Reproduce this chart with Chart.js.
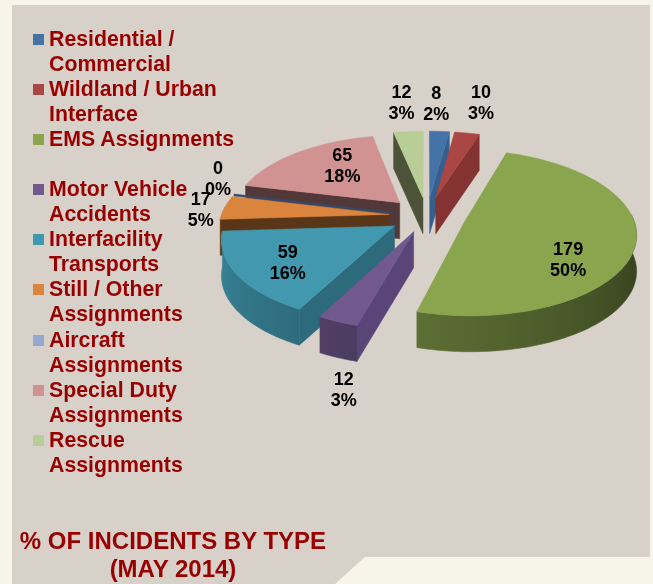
<!DOCTYPE html>
<html>
<head>
<meta charset="utf-8">
<script src="https://cdn.jsdelivr.net/npm/chart.js@4"></script>
<style>
  body { margin: 0; background: #f7f5ea; font-family: "Liberation Sans", Arial, sans-serif; }
  #wrap { position: relative; width: 653px; height: 584px; overflow: hidden; }
  #panel {
    position: absolute; left: 0; top: 0; width: 653px; height: 584px; background: #d8d1c9;
    clip-path: polygon(12px 5px, 650px 5px, 650px 557px, 365px 557px, 335px 584px, 12px 584px);
  }
  canvas { position: absolute; left: 0; top: 0; }
  #legend { position: absolute; left: 33px; top: 27px; width: 205px; }
  .item { position: relative; height: 50.1px; padding-left: 16px; font: bold 21.3px/25px "Liberation Sans", Arial, sans-serif; color: #980000; }
  .swatch { position: absolute; left: 0; top: 7px; width: 11px; height: 11px; }
  #title {
    position: absolute; left: 0; top: 527px; width: 346px; text-align: center;
    font: bold 24px/28px "Liberation Sans", Arial, sans-serif; color: #980000;
  }
</style>
</head>
<body>
<div id="wrap">
  <div id="panel"></div>
  <canvas id="chart" width="653" height="584"></canvas>
  <div id="legend"></div>
  <div id="title">% OF INCIDENTS BY TYPE<br>(MAY 2014)</div>
</div>
<script>
const categories = [
  "Residential / Commercial", "Wildland / Urban Interface", "EMS Assignments",
  "Motor Vehicle Accidents", "Interfacility Transports", "Still / Other Assignments",
  "Aircraft Assignments", "Special Duty Assignments", "Rescue Assignments"
];
const incidents = [8, 10, 179, 12, 59, 17, 0, 65, 12];
const percents = [2, 3, 50, 3, 16, 5, 0, 18, 3];

// styling, not data
const sliceColors = ["#4572a7", "#aa4643", "#89a54e", "#71588f", "#4198af", "#db843d", "#93a9cf", "#d19392", "#b9cd96"];
const wallColors = ["#365f8e", "#843232", "#4a5a2a", "#5a4578", "#2d6a7b", "#5a3618", "#34486a", "#523838", "#4c5339"];
const explode = [40, 40, 39, 35, 38, 38, 38, 40, 40];
const labelNudge = [[-3, -27], [14, -29], [-67, 14], [6, 69], [51, -11], [-24, 3], [-16, -15], [45, 14], [-7, -28]];
const paintOrder = [7, 8, 0, 1, 6, 5, 4, 3, 2];

const squash = 0.476, perspective = 0.135, depth = 36;

function shade(hex, f) {
  const n = parseInt(hex.slice(1), 16);
  return `rgb(${(n >> 16) * f | 0},${((n >> 8) & 255) * f | 0},${(n & 255) * f | 0})`;
}

function rimShade(angle) {
  // light falls from the left
  const deg = (angle + Math.PI / 2) * 180 / Math.PI;
  return Math.min(0.95, Math.max(0.42, 0.42 + (deg - 110) * 0.003));
}

// Chart.js has no 3D pie, so this plugin paints the arcs it has laid out as a tilted disc
const pie3d = {
  id: "pie3d",
  beforeDatasetsDraw(chart) {
    const ctx = chart.ctx;
    const arcs = chart.getDatasetMeta(0).data;
    const project = (arc, u, v, z = 0) => {
      const s = 1 / (1 - perspective * v / arc.outerRadius);
      return [arc.x + u * s, arc.y + v * squash * s + z];
    };
    const poly = (pts, color) => {
      ctx.beginPath();
      pts.forEach((p, i) => (i ? ctx.lineTo(p[0], p[1]) : ctx.moveTo(p[0], p[1])));
      ctx.closePath();
      ctx.fillStyle = color;
      ctx.strokeStyle = color;
      ctx.lineWidth = 0.5;
      ctx.fill();
      ctx.stroke();
    };

    paintOrder.forEach((i) => {
      const arc = arcs[i];
      const mid = (arc.startAngle + arc.endAngle) / 2;
      const ex = explode[i] * Math.cos(mid), ey = explode[i] * Math.sin(mid);
      const R = arc.outerRadius;
      const rim = (a, z) => project(arc, ex + R * Math.cos(a), ey + R * Math.sin(a), z);
      const apex = (z) => project(arc, ex, ey, z);

      if (arc.endAngle - arc.startAngle < 0.001) {
        // zero value slice, only its edge shows
        poly([apex(0), rim(arc.startAngle, 0), rim(arc.startAngle, 2), apex(2)], wallColors[i]);
        return;
      }

      const steps = Math.max(2, Math.ceil((arc.endAngle - arc.startAngle) / 0.02));
      const angles = [];
      for (let k = 0; k <= steps; k++) angles.push(arc.startAngle + (arc.endAngle - arc.startAngle) * k / steps);

      // outer curved wall, only the part turned to the viewer
      const front = angles.filter((a) => Math.sin(a) > -0.1);
      if (front.length > 1) {
        const top = front.map((a) => rim(a, 0));
        const x0 = top[0][0], x1 = top[top.length - 1][0];
        const grad = ctx.createLinearGradient(x0, 0, x1, 0);
        front.forEach((a, k) => {
          if (k % 5 === 0 || k === front.length - 1) {
            const t = Math.min(1, Math.max(0, (top[k][0] - x0) / (x1 - x0 || 1)));
            grad.addColorStop(t, shade(sliceColors[i], rimShade(a)));
          }
        });
        poly([...top, ...front.slice().reverse().map((a) => rim(a, depth))], grad);
      }

      // radial walls that face the viewer
      if (Math.cos(arc.endAngle) > 0) {
        poly([apex(0), rim(arc.endAngle, 0), rim(arc.endAngle, depth), apex(depth)], wallColors[i]);
      }
      if (Math.cos(arc.startAngle) < 0) {
        poly([apex(0), rim(arc.startAngle, 0), rim(arc.startAngle, depth), apex(depth)], wallColors[i]);
      }

      // top face
      poly([apex(0), ...angles.map((a) => rim(a, 0))], sliceColors[i]);
    });

    // value labels
    ctx.fillStyle = "#000";
    ctx.font = 'bold 18px "Liberation Sans", Arial, sans-serif';
    ctx.textAlign = "center";
    ctx.textBaseline = "middle";
    arcs.forEach((arc, i) => {
      const mid = (arc.startAngle + arc.endAngle) / 2;
      const d = explode[i] + arc.outerRadius;
      const p = project(arc, d * Math.cos(mid), d * Math.sin(mid));
      const x = p[0] + labelNudge[i][0], y = p[1] + labelNudge[i][1];
      ctx.fillText(String(incidents[i]), x, y - 10.5);
      ctx.fillText(percents[i] + "%", x, y + 10.5);
    });
    return false;
  }
};

new Chart(document.getElementById("chart"), {
  type: "pie",
  data: {
    labels: categories,
    datasets: [{ data: incidents, backgroundColor: sliceColors, offset: explode, radius: 168, borderWidth: 0 }]
  },
  options: {
    responsive: false,
    animation: false,
    events: [],
    layout: { padding: { left: 201, bottom: 152 } },
    plugins: { legend: { display: false }, tooltip: { enabled: false } }
  },
  plugins: [pie3d]
});

// legend is two text rows per entry, which the built in legend cannot wrap
const legend = document.getElementById("legend");
categories.forEach((name, i) => {
  const item = document.createElement("div");
  item.className = "item";
  const swatch = document.createElement("span");
  swatch.className = "swatch";
  swatch.style.background = sliceColors[i];
  item.appendChild(swatch);
  item.appendChild(document.createTextNode(name));
  legend.appendChild(item);
});
</script>
</body>
</html>
